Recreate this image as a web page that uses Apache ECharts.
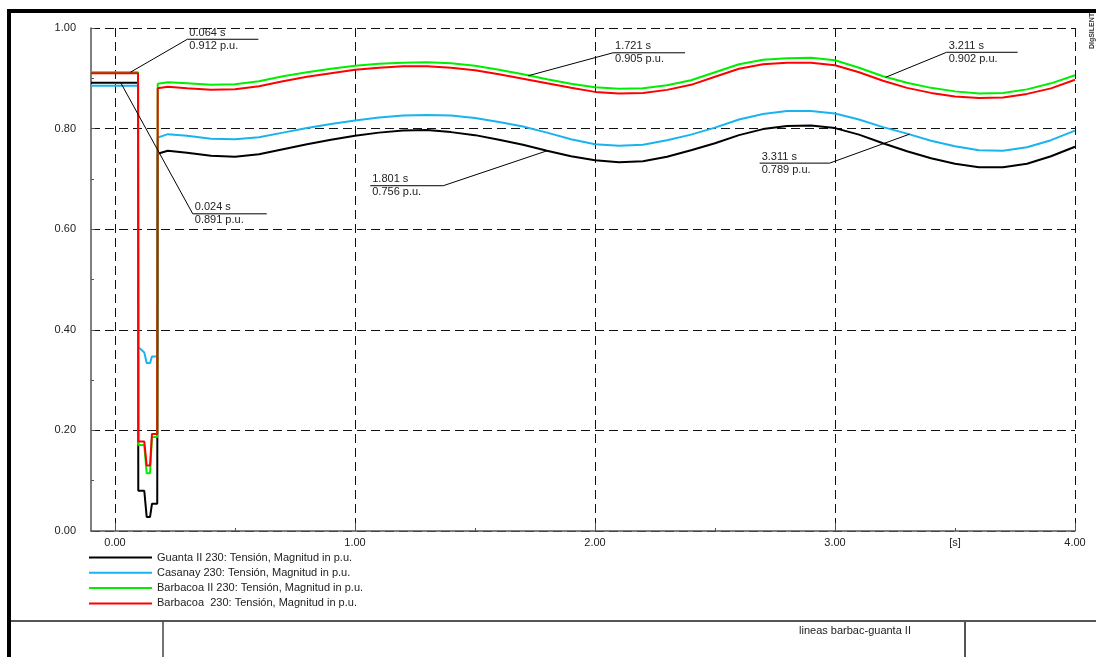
<!DOCTYPE html>
<html><head><meta charset="utf-8">
<script src="https://cdn.jsdelivr.net/npm/echarts@6/dist/echarts.min.js"></script>
<style>html,body{margin:0;padding:0;background:#fff}#c{width:1096px;height:657px}</style>
</head><body><div id="c"></div>
<script>
// ---- data ----
const times = [-0.1, 0.096, 0.097, 0.122, 0.132, 0.146, 0.154, 0.176, 0.178, 0.22,
  0.3, 0.4, 0.5, 0.6, 0.7, 0.8, 0.9,
  1.0, 1.1, 1.2, 1.3, 1.4, 1.5, 1.6, 1.7, 1.8, 1.9,
  2.0, 2.1, 2.2, 2.3, 2.4, 2.5, 2.6, 2.7, 2.8, 2.9,
  3.0, 3.1, 3.2, 3.3, 3.4, 3.5, 3.6, 3.7, 3.8, 3.9, 4.0];
const guanta = [0.891, 0.891, 0.080, 0.080, 0.028, 0.028, 0.054, 0.054, 0.750, 0.756,
  0.752, 0.746, 0.744, 0.749, 0.759, 0.769, 0.778,
  0.786, 0.792, 0.796, 0.797, 0.793, 0.787, 0.778, 0.768, 0.756, 0.745,
  0.737, 0.733, 0.735, 0.744, 0.757, 0.771, 0.787, 0.799, 0.805, 0.806,
  0.801, 0.788, 0.771, 0.755, 0.741, 0.730, 0.723, 0.723, 0.730, 0.745, 0.764];
const casanay = [0.885, 0.885, 0.366, 0.355, 0.334, 0.334, 0.347, 0.347, 0.782, 0.789,
  0.786, 0.780, 0.779, 0.783, 0.792, 0.801, 0.809,
  0.816, 0.822, 0.826, 0.827, 0.826, 0.821, 0.813, 0.804, 0.792, 0.779,
  0.769, 0.766, 0.768, 0.777, 0.788, 0.802, 0.818, 0.829, 0.835, 0.835,
  0.830, 0.818, 0.803, 0.790, 0.776, 0.765, 0.757, 0.756, 0.763, 0.777, 0.796];
const barbacoaII = [0.912, 0.912, 0.171, 0.171, 0.115, 0.115, 0.187, 0.187, 0.889, 0.892,
  0.890, 0.887, 0.888, 0.894, 0.904, 0.912, 0.919,
  0.925, 0.929, 0.931, 0.932, 0.930, 0.925, 0.917, 0.908, 0.898, 0.889,
  0.882, 0.879, 0.880, 0.886, 0.896, 0.912, 0.928, 0.937, 0.940, 0.941,
  0.936, 0.921, 0.904, 0.891, 0.881, 0.874, 0.870, 0.871, 0.878, 0.890, 0.906];
const barbacoa = [0.910, 0.910, 0.178, 0.178, 0.130, 0.130, 0.193, 0.193, 0.880, 0.883,
  0.880, 0.877, 0.878, 0.884, 0.894, 0.903, 0.910,
  0.917, 0.921, 0.924, 0.924, 0.921, 0.916, 0.908, 0.899, 0.890, 0.881,
  0.873, 0.870, 0.871, 0.877, 0.887, 0.903, 0.919, 0.928, 0.931, 0.931,
  0.926, 0.912, 0.895, 0.881, 0.871, 0.864, 0.861, 0.862, 0.869, 0.880, 0.897];
const seriesNames = ['Guanta II 230: Tensión, Magnitud in p.u.', 'Casanay 230: Tensión, Magnitud in p.u.',
  'Barbacoa II 230: Tensión, Magnitud in p.u.', 'Barbacoa  230: Tensión, Magnitud in p.u.'];
const annTimes = [0.064, 0.024, 1.721, 1.801, 3.211, 3.311];
const annValues = [0.912, 0.891, 0.905, 0.756, 0.902, 0.789];
const yTicks = [0, 0.2, 0.4, 0.6, 0.8, 1.0];
const title = 'lineas barbac-guanta II';

// ---- layout / style ----
const colors = ['#000000', '#19b4ee', '#00ee00', '#ff0000'];
const annLayout = [[57, -33, 71], [72, 131, 74], [85, -23, 72], [-104, 35, -73], [61, -25, 71], [-80, 29, -70]];
const FONT = 'Liberation Sans, Arial, sans-serif';
const axisCol = '#555';
const GRID = { top: 28, bottom: 126, right: 21 };

const chart = echarts.init(document.getElementById('c'), null, { renderer: 'canvas' });
const allVals = [guanta, casanay, barbacoaII, barbacoa];
const series = allVals.map((vals, k) => ({
  name: seriesNames[k], type: 'line', xAxisIndex: 0, yAxisIndex: 0,
  data: times.map((t, i) => [t, vals[i]]),
  showSymbol: false, symbol: 'none', animation: false,
  lineStyle: { color: colors[k], width: 2 }, itemStyle: { color: colors[k] }, z: 3 + k
}));

chart.setOption({
  animation: false,
  textStyle: { fontFamily: FONT },
  grid: [
    { left: 91, right: GRID.right, top: GRID.top, bottom: GRID.bottom },
    { left: 115, right: GRID.right, top: GRID.top, bottom: GRID.bottom }
  ],
  xAxis: [
    { type: 'value', gridIndex: 0, min: -0.1, max: 4, position: 'bottom',
      axisLine: { show: true, onZero: false, lineStyle: { color: axisCol, width: 1.5 } },
      axisTick: { show: false }, axisLabel: { show: false }, splitLine: { show: false } },
    { type: 'value', gridIndex: 1, min: 0, max: 4, interval: 0.5, position: 'bottom',
      axisLine: { show: false, onZero: false },
      axisTick: { show: true, inside: true, length: 3, lineStyle: { color: axisCol, width: 1 } },
      axisLabel: { show: true, margin: 6, fontSize: 11, color: '#222', fontFamily: FONT,
        formatter: v => (Math.abs(v - Math.round(v)) < 1e-6 ? v.toFixed(2) : (Math.abs(v - 3.5) < 1e-6 ? '[s]' : '')) },
      splitLine: { show: false } },
    { type: 'value', gridIndex: 1, min: 0, max: 4, interval: 1, position: 'bottom',
      axisLine: { show: false, onZero: false },
      axisTick: { show: true, inside: true, length: 8, lineStyle: { color: axisCol, width: 1 } },
      axisLabel: { show: false },
      splitLine: { show: true, lineStyle: { color: '#111', width: 1, type: [9, 5] } } }
  ],
  yAxis: [
    { type: 'value', gridIndex: 0, min: yTicks[0], max: yTicks[yTicks.length - 1], interval: 0.2,
      axisLine: { show: true, onZero: false, lineStyle: { color: axisCol, width: 1.5 } },
      axisTick: { show: true, inside: true, length: 4, lineStyle: { color: axisCol } },
      minorTick: { show: true, splitNumber: 2, length: 3, lineStyle: { color: axisCol } },
      axisLabel: { margin: 15, fontSize: 11, color: '#222', fontFamily: FONT, formatter: v => v.toFixed(2) },
      splitLine: { show: true, lineStyle: { color: '#111', width: 1, type: [9, 5] } } },
    { type: 'value', gridIndex: 1, min: 0, max: 1, show: false }
  ],
  legend: {
    data: seriesNames, orient: 'vertical', left: 89, top: 551, padding: 0,
    itemWidth: 63, itemHeight: 2, icon: 'rect', itemGap: 2.3,
    textStyle: { fontSize: 11, lineHeight: 13, color: '#222', fontFamily: FONT },
    selectedMode: false
  },
  series: series
});

// annotations & frame
const g = [];
annTimes.forEach((t, i) => {
  const p = chart.convertToPixel({ xAxisIndex: 0, yAxisIndex: 0 }, [t, annValues[i]]);
  const [dx, dy, len] = annLayout[i];
  const ax = p[0] + dx, ay = p[1] + dy;
  g.push({ type: 'polyline', shape: { points: [[p[0], p[1]], [ax, ay], [ax + len, ay]] },
    style: { stroke: '#000', lineWidth: 1, fill: null }, z: 50 });
  const tx = Math.min(ax, ax + len) + 2;
  g.push({ type: 'text', x: tx, y: ay - 1, z: 51,
    style: { text: t.toFixed(3) + ' s', fontSize: 11, fontFamily: FONT, fill: '#222', verticalAlign: 'bottom', align: 'left' } });
  g.push({ type: 'text', x: tx, y: ay + 1, z: 51,
    style: { text: annValues[i].toFixed(3) + ' p.u.', fontSize: 11, fontFamily: FONT, fill: '#222', verticalAlign: 'top', align: 'left' } });
});
// frame
g.push({ type: 'rect', shape: { x: 7, y: 9, width: 4, height: 648 }, style: { fill: '#000' }, z: 60 });
g.push({ type: 'rect', shape: { x: 7, y: 9, width: 1089, height: 4 }, style: { fill: '#000' }, z: 60 });
g.push({ type: 'line', shape: { x1: 11, y1: 621, x2: 1096, y2: 621 }, style: { stroke: '#555', lineWidth: 2 }, z: 60 });
g.push({ type: 'line', shape: { x1: 163, y1: 621, x2: 163, y2: 657 }, style: { stroke: '#444', lineWidth: 1.5 }, z: 60 });
g.push({ type: 'line', shape: { x1: 965, y1: 621, x2: 965, y2: 657 }, style: { stroke: '#555', lineWidth: 2 }, z: 60 });
g.push({ type: 'text', x: 855, y: 631, z: 60,
  style: { text: title, fontSize: 11, fontFamily: FONT, fill: '#222', align: 'center', verticalAlign: 'middle' } });
g.push({ type: 'text', x: 1092, y: 31, rotation: Math.PI / 2, z: 60,
  style: { text: 'DIgSILENT', fontSize: 7, fontWeight: 'bold', fontFamily: FONT, fill: '#333', align: 'center', verticalAlign: 'middle' } });
chart.setOption({ graphic: { elements: g } });
</script>
</body></html>
